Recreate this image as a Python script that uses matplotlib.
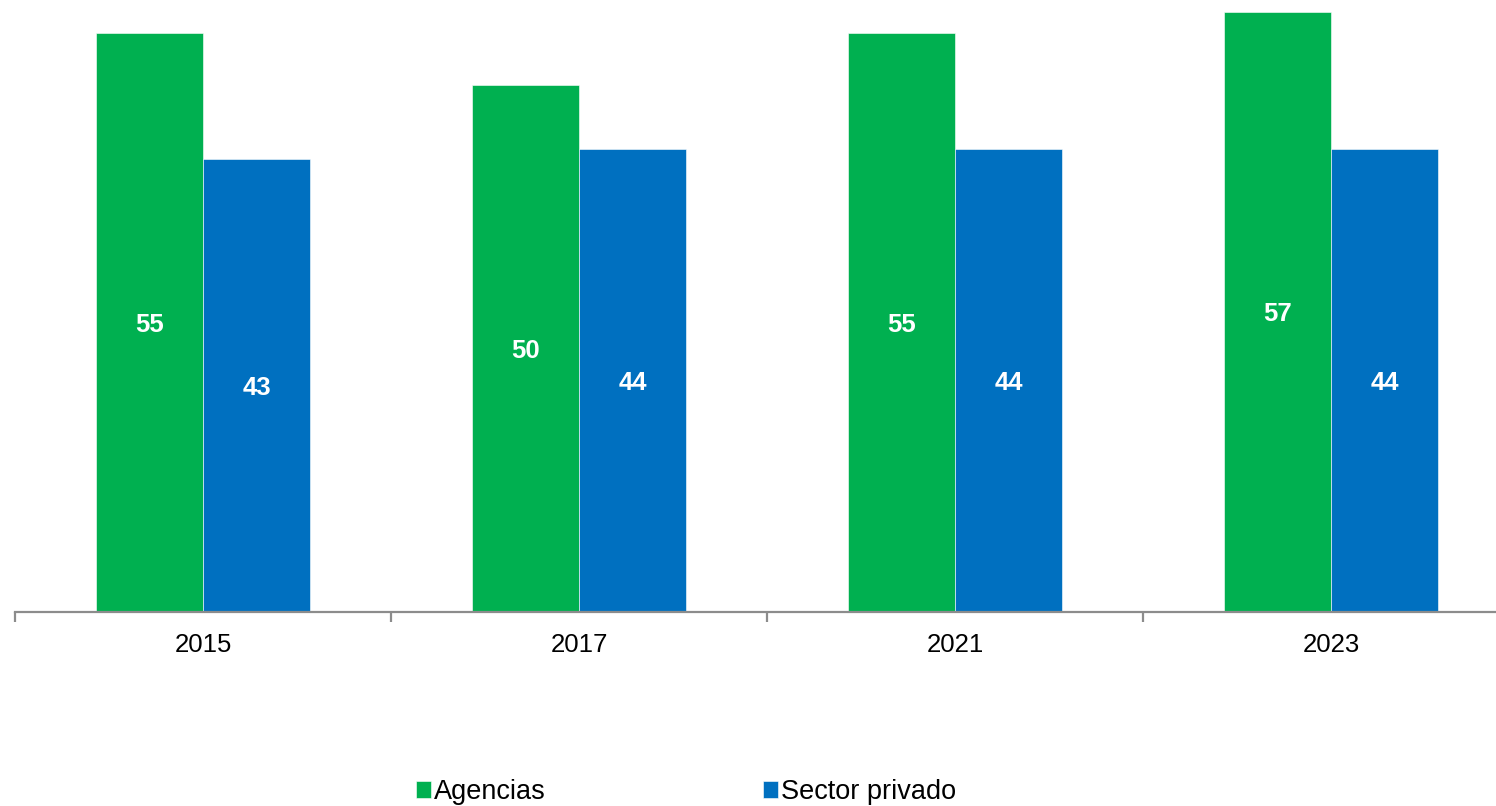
import numpy as np
import matplotlib.pyplot as plt

plt.rcParams['font.family'] = ['Liberation Sans', 'DejaVu Sans']

# Data
years = ['2015', '2017', '2021', '2023']
agencias = [55, 50, 55, 57]
sector_privado = [43, 44, 44, 44]

green = '#00B050'
blue = '#0070C0'

fig = plt.figure(figsize=(14.96, 8.06), dpi=100)
ax = fig.add_axes([15 / 1496, 194 / 806, 1504 / 1496, 612 / 806])

x = np.arange(len(years))
w = 0.285
b1 = ax.bar(x - w / 2, agencias, w, color=green, edgecolor='white', linewidth=0.4, label='Agencias')
b2 = ax.bar(x + w / 2, sector_privado, w, color=blue, edgecolor='white', linewidth=0.4, label='Sector privado')

# Values in the middle of each bar
for bars, vals in [(b1, agencias), (b2, sector_privado)]:
    for rect, v in zip(bars, vals):
        ax.text(rect.get_x() + rect.get_width() / 2, v / 2, str(v),
                ha='center', va='center_baseline', color='white', fontsize=18.5, fontweight='bold')

ax.set_xlim(-0.5, 3.5)
ax.set_ylim(0, 58.1)
for s in ['top', 'right', 'left']:
    ax.spines[s].set_visible(False)
ax.spines['bottom'].set_color('#8c8c8c')
ax.spines['bottom'].set_linewidth(1.6)
ax.set_yticks([])

# Category labels between the boundary ticks
ax.set_xticks(x)
ax.set_xticklabels(years, fontsize=18.5)
ax.tick_params(axis='x', length=0, pad=15)
ax.set_xticks(np.arange(-0.5, 3.6, 1), minor=True)
ax.tick_params(axis='x', which='minor', length=7, width=1.6, color='#8c8c8c')

fig.legend(handles=[b1, b2], loc='center', bbox_to_anchor=(686 / 1496, 1 - 792 / 806),
           ncol=2, frameon=False, fontsize=19.5, handlelength=0.56, handleheight=0.56,
           handletextpad=0.12, columnspacing=8.0)

fig.savefig('out.png', dpi=100)
